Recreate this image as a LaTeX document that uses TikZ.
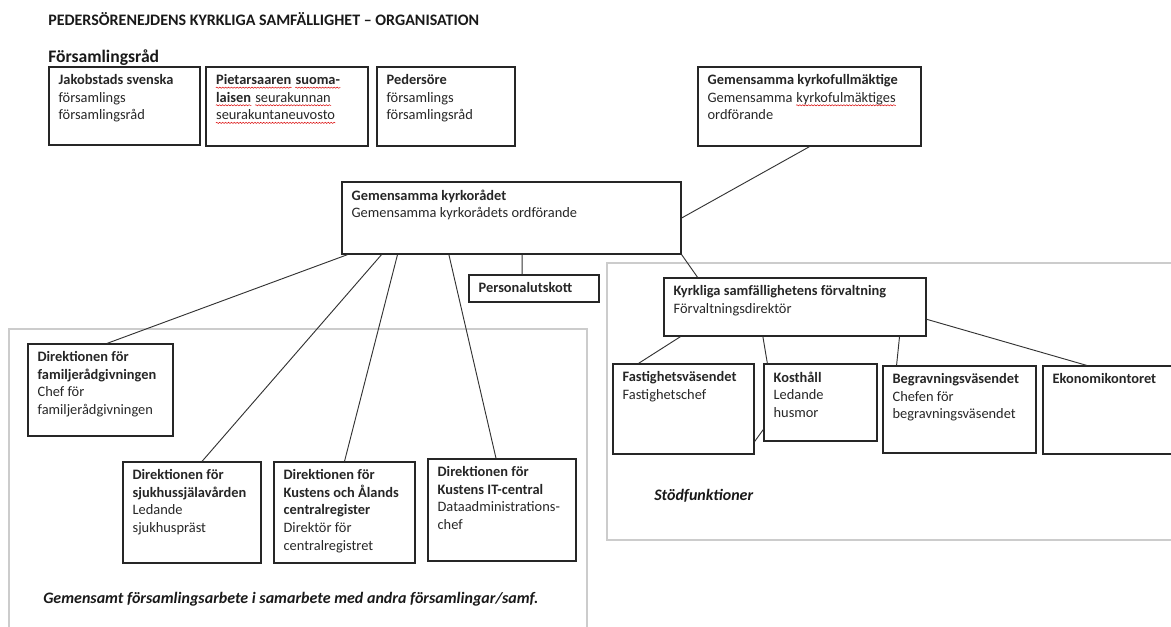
\documentclass[tikz,border=0pt]{standalone}
\usepackage{fontspec}
\setmainfont{Carlito}
\usetikzlibrary{calc}
\usetikzlibrary{fit}
\usetikzlibrary{decorations.pathmorphing}

\newcommand{\spellmark}[1]{\tikz[baseline=(sw.base)]{\node [inner sep=0pt,anchor=base] (sw) {#1};
  \draw [red!85!black,line width=0.35pt,decorate,decoration={snake,amplitude=0.45pt,segment length=2.2pt}]
    ([yshift=-2.2pt]sw.base west) -- ([yshift=-2.2pt]sw.base east);}}

\begin{document}
\begin{tikzpicture}[x=0.75pt,y=-0.75pt,
    box/.style={draw=black!85,line width=0.95pt,inner sep=0pt},
    txt/.style={anchor=north west,align=left,inner xsep=7.5pt,inner ysep=6pt,text=black!85,font=\fontsize{10.8}{13.2}\selectfont},
    frame/.style={draw=black!20,line width=0.9pt,inner sep=0pt},
    link/.style={draw=black!80,line width=0.7pt},
    note/.style={anchor=base west,inner sep=0pt,text=black!90,font=\fontsize{12}{14}\selectfont\bfseries\itshape}]

  \useasboundingbox (0,0) rectangle (1171,626);

  \node [anchor=base west,inner sep=0pt,text=black!90,font=\fontsize{12}{14}\selectfont\bfseries] (title) at (48,25) {PEDERSÖRENEJDENS KYRKLIGA SAMFÄLLIGHET – ORGANISATION};
  \node [anchor=base west,inner sep=0pt,text=black!90,font=\fontsize{13.2}{15}\selectfont\bfseries] (frad) at (48,62) {Församlingsråd};

  % frames
  \node [frame,fit={(607,263) (1180,540)}] (sf) {};
  \node [frame,fit={(9,329) (587,640)}] (gf) {};

  % top row
  \node [box,fit={(49,67) (200,145)}] (jak) {};
  \node [txt] at (jak.north west) {\textbf{Jakobstads svenska}\\församlings\\församlingsråd};

  \node [box,fit={(206,67) (368,146)}] (pie) {};
  \node [txt] at (pie.north west) {\textbf{\spellmark{Pietarsaaren} \spellmark{suoma-}}\\\textbf{\spellmark{laisen}} \spellmark{seurakunnan}\\\spellmark{seurakuntaneuvosto}};

  \node [box,fit={(377,67) (515,146)}] (ped) {};
  \node [txt] at (ped.north west) {\textbf{Pedersöre}\\församlings\\församlingsråd};

  \node [box,fit={(698,67) (921,146)}] (fm) {};
  \node [txt] at (fm.north west) {\textbf{Gemensamma kyrkofullmäktige}\\Gemensamma \spellmark{kyrkofulmäktiges}\\ordförande};

  % centre
  \node [box,fit={(342,182) (681,254)}] (kr) {};
  \node [txt] at (kr.north west) {\textbf{Gemensamma kyrkorådet}\\Gemensamma kyrkorådets ordförande};

  \node [box,fit={(469,275) (599,302)}] (pu) {};
  \node [txt] at (pu.north west) {\textbf{Personalutskott}};

  % support functions
  \node [box,fit={(664,278) (926,336)}] (kf) {};
  \node [txt] at (kf.north west) {\textbf{Kyrkliga samfällighetens förvaltning}\\Förvaltningsdirektör};

  \node [box,fit={(613,364) (754,454)}] (fa) {};
  \node [txt] at (fa.north west) {\textbf{Fastighetsväsendet}\\Fastighetschef};

  \node [box,fit={(764,364) (877,441)}] (ko) {};
  \node [txt] at (ko.north west) {\textbf{Kosthåll}\\Ledande\\husmor};

  \node [box,fit={(883,366) (1036,453)}] (be) {};
  \node [txt] at (be.north west) {\textbf{Begravningsväsendet}\\Chefen för\\begravningsväsendet};

  \node [box,fit={(1043,366) (1180,454)}] (ek) {};
  \node [txt] at (ek.north west) {\textbf{Ekonomikontoret}};

  \node [note] (sfl) at (654,500) {Stödfunktioner};

  % joint parish work
  \node [box,fit={(28,344) (173,436)}] (fam) {};
  \node [txt] at (fam.north west) {\textbf{Direktionen för}\\\textbf{familjerådgivningen}\\Chef för\\familjerådgivningen};

  \node [box,fit={(123,462) (261,563)}] (sjh) {};
  \node [txt] at (sjh.north west) {\textbf{Direktionen för}\\\textbf{sjukhussjälavården}\\Ledande\\sjukhuspräst};

  \node [box,fit={(274,462) (415,563)}] (cre) {};
  \node [txt] at (cre.north west) {\textbf{Direktionen för}\\\textbf{Kustens och Ålands}\\\textbf{centralregister}\\Direktör för\\centralregistret};

  \node [box,fit={(428,459) (576,561)}] (itc) {};
  \node [txt] at (itc.north west) {\textbf{Direktionen för}\\\textbf{Kustens IT-central}\\Dataadministrations-\\chef};

  \node [note] (gfl) at (43,603) {Gemensamt församlingsarbete i samarbete med andra församlingar/samf.};

  % connectors
  \path [link]
    (kr.east) edge (fm.south)
    ($(kr.south west)!0.018!(kr.south east)$) edge ($(fam.north west)!0.545!(fam.north east)$)
    ($(kr.south west)!0.118!(kr.south east)$) edge ($(sjh.north west)!0.572!(sjh.north east)$)
    ($(kr.south west)!0.165!(kr.south east)$) edge (cre.north)
    ($(kr.south west)!0.316!(kr.south east)$) edge ($(itc.north west)!0.46!(itc.north east)$)
    ($(kr.south west)!0.531!(kr.south east)$) edge ($(pu.north west)!0.41!(pu.north east)$)
    (kr.south east) edge ($(kf.north west)!0.13!(kf.north east)$);

  \path [link]
    ($(kf.south west)!0.065!(kf.south east)$) edge ($(fa.north west)!0.184!(fa.north east)$)
    ($(kf.south west)!0.378!(kf.south east)$) edge ($(ko.north west)!0.035!(ko.north east)$)
    ($(kf.south west)!0.897!(kf.south east)$) edge ($(be.north west)!0.092!(be.north east)$)
    ($(kf.north east)!0.707!(kf.south east)$) edge ($(ek.north west)!0.32!(ek.north east)$)
    ($(ko.north west)!0.844!(ko.south west)$) edge ($(fa.north east)!0.856!(fa.south east)$);

\end{tikzpicture}
\end{document}
